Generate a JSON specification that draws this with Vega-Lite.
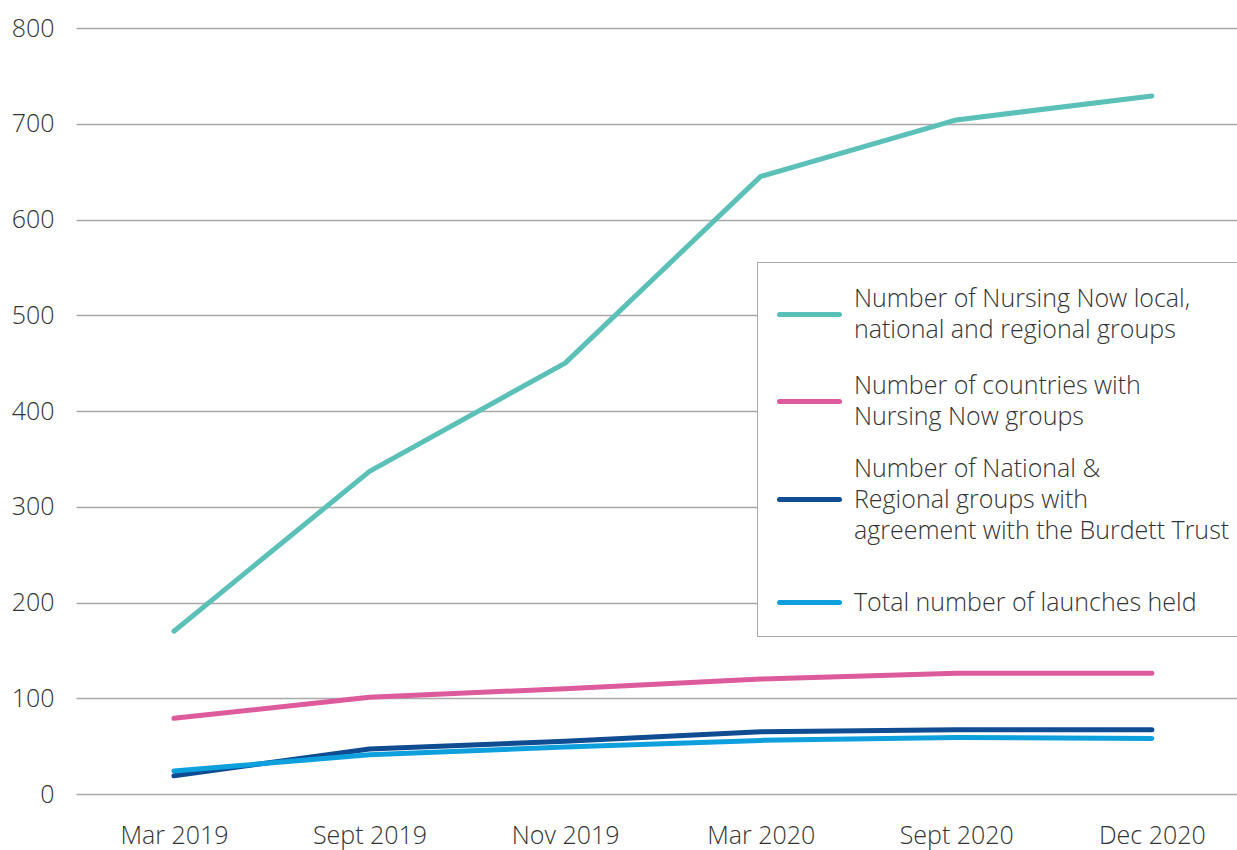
{
  "$schema": "https://vega.github.io/schema/vega-lite/v6.json",
  "autosize": "none",
  "width": 1161,
  "height": 766,
  "padding": {"left": 76, "top": 28, "right": 0, "bottom": 56},
  "background": "white",
  "config": {
    "view": {"stroke": null},
    "font": "Open Sans",
    "axis": {"labelFont": "Open Sans", "labelFontWeight": 300, "labelColor": "#333333", "labelFontSize": 25}
  },
  "data": {
    "values": [
      {"period": "Mar 2019", "series": "groups", "value": 170},
      {"period": "Sept 2019", "series": "groups", "value": 337},
      {"period": "Nov 2019", "series": "groups", "value": 450},
      {"period": "Mar 2020", "series": "groups", "value": 645},
      {"period": "Sept 2020", "series": "groups", "value": 704},
      {"period": "Dec 2020", "series": "groups", "value": 729},
      {"period": "Mar 2019", "series": "countries", "value": 79},
      {"period": "Sept 2019", "series": "countries", "value": 101},
      {"period": "Nov 2019", "series": "countries", "value": 110},
      {"period": "Mar 2020", "series": "countries", "value": 120},
      {"period": "Sept 2020", "series": "countries", "value": 126},
      {"period": "Dec 2020", "series": "countries", "value": 126},
      {"period": "Mar 2019", "series": "agreement", "value": 19},
      {"period": "Sept 2019", "series": "agreement", "value": 47},
      {"period": "Nov 2019", "series": "agreement", "value": 55},
      {"period": "Mar 2020", "series": "agreement", "value": 65},
      {"period": "Sept 2020", "series": "agreement", "value": 67},
      {"period": "Dec 2020", "series": "agreement", "value": 67},
      {"period": "Mar 2019", "series": "launches", "value": 24},
      {"period": "Sept 2019", "series": "launches", "value": 41},
      {"period": "Nov 2019", "series": "launches", "value": 49},
      {"period": "Mar 2020", "series": "launches", "value": 56},
      {"period": "Sept 2020", "series": "launches", "value": 59},
      {"period": "Dec 2020", "series": "launches", "value": 58}
    ]
  },
  "mark": {"type": "line", "strokeWidth": 5, "strokeCap": "round", "strokeJoin": "round"},
  "encoding": {
    "x": {
      "field": "period",
      "type": "ordinal",
      "sort": ["Mar 2019", "Sept 2019", "Nov 2019", "Mar 2020", "Sept 2020", "Dec 2020"],
      "scale": {"type": "point", "padding": 0.468, "align": 0.535},
      "axis": {"title": null, "domain": false, "ticks": false, "grid": false, "labelAngle": 0, "labelPadding": 29, "labelBaseline": "top"}
    },
    "y": {
      "field": "value",
      "type": "quantitative",
      "scale": {"domain": [0, 800], "nice": false},
      "axis": {"title": null, "domain": false, "ticks": false, "values": [0, 100, 200, 300, 400, 500, 600, 700, 800], "grid": true, "gridColor": "#a9a9a9", "gridWidth": 1.5, "labelPadding": 22}
    },
    "color": {
      "field": "series",
      "type": "nominal",
      "sort": ["groups", "countries", "agreement", "launches"],
      "scale": {"domain": ["groups", "countries", "agreement", "launches"], "range": ["#5bc0b8", "#dd5a9c", "#0f4c92", "#0ea0dd"]},
      "legend": {
        "title": null,
        "orient": "none",
        "legendX": 681,
        "legendY": 234,
        "direction": "vertical",
        "fillColor": "white",
        "strokeColor": "#a9a9a9",
        "padding": 20,
        "symbolType": "stroke",
        "symbolSize": 3600,
        "symbolStrokeWidth": 5,
        "labelFont": "Open Sans",
        "labelFontWeight": 300,
        "labelFontSize": 25,
        "labelColor": "#333333",
        "labelLimit": 600,
        "labelOffset": 12,
        "rowPadding": 26,
        "labelExpr": "datum.label == 'groups' ? ['Number of Nursing Now local,', 'national and regional groups'] : datum.label == 'countries' ? ['Number of countries with', 'Nursing Now groups'] : datum.label == 'agreement' ? ['Number of National &', 'Regional groups with', 'agreement with the Burdett Trust\u00a0\u00a0\u00a0\u00a0\u00a0\u00a0'] : 'Total number of launches held'",
        "encode": {
          "symbols": {
            "update": {
              "strokeCap": {"value": "round"}
            }
          },
          "labels": {
            "update": {
              "lineHeight": {"value": 31},
              "dy": {"signal": "datum.value == 'agreement' ? -31 : datum.value == 'launches' ? 0 : -15.5"}
            }
          }
        }
      }
    }
  }
}
